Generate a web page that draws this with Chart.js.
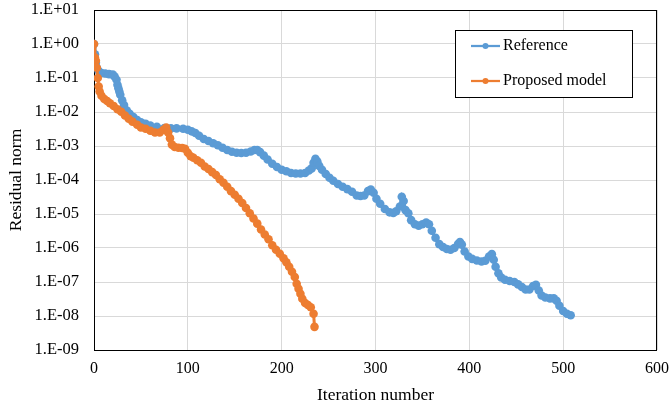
<!DOCTYPE html>
<html>
<head>
<meta charset="utf-8">
<script src="https://cdn.jsdelivr.net/npm/chart.js@4/dist/chart.umd.min.js"></script>
<style>
  html, body { margin: 0; padding: 0; background: #fff; }
  #wrap { width: 670px; height: 410px; }
</style>
</head>
<body>
<div id="wrap"><canvas id="residualChart"></canvas></div>
<script>
// iteration numbers and residual norms
const refIter = [0, 1, 2, 3, 5, 8, 12, 16, 20, 22, 24, 25, 26, 27, 28, 30, 32, 35, 38, 42, 46, 50, 55, 60, 67, 75, 82, 88, 95, 100,
  104, 108, 112, 117, 122, 127, 132, 137, 142, 147, 152, 157, 162, 167, 171, 174, 177, 181, 185, 190, 195, 200, 205, 210, 215, 220,
  225, 229, 232, 234, 236, 238, 240, 243, 247, 251, 255, 260, 265, 270, 275, 280, 284, 288, 292, 295, 298, 301, 305, 310, 315, 319,
  322, 326, 328, 330, 332, 335, 338, 342, 346, 350, 354, 357, 360, 364, 368, 372, 376, 380, 384, 388, 390, 392, 395, 399, 403, 408,
  413, 417, 421, 424, 426, 428, 431, 434, 438, 443, 448, 452, 456, 460, 464, 468, 471, 474, 477, 481, 486, 490, 493, 496, 500, 504, 508];
const refResidual = [1, 0.5, 0.28, 0.2, 0.16, 0.14, 0.135, 0.13, 0.126, 0.11, 0.089, 0.063, 0.05, 0.04, 0.032, 0.022, 0.016, 0.011,
  0.0089, 0.0071, 0.0058, 0.005, 0.0045, 0.004, 0.0037, 0.0034, 0.0033, 0.0033, 0.0032, 0.003,
  0.0027, 0.0024, 0.002, 0.0016, 0.0014, 0.0012, 0.00105, 8.9e-4, 7.6e-4, 6.8e-4, 6.3e-4, 6.2e-4, 6.3e-4, 6.9e-4, 7.6e-4, 7.6e-4,
  6.6e-4, 5.2e-4, 4.0e-4, 3.0e-4, 2.4e-4, 2.0e-4, 1.8e-4, 1.6e-4, 1.55e-4, 1.55e-4,
  1.6e-4, 1.9e-4, 2.2e-4, 3.2e-4, 4.2e-4, 3.5e-4, 2.6e-4, 2.0e-4, 1.5e-4, 1.17e-4, 9.5e-5, 7.6e-5, 6.3e-5, 5.4e-5, 4.5e-5, 3.5e-5,
  3.4e-5, 3.5e-5, 4.7e-5, 5.2e-5, 4.2e-5, 2.8e-5, 2.0e-5, 1.4e-5, 1.12e-5, 1.07e-5,
  1.2e-5, 1.66e-5, 3.2e-5, 2.4e-5, 1.3e-5, 1.05e-5, 6.6e-6, 5.0e-6, 4.5e-6, 5.0e-6, 5.6e-6, 5.0e-6, 3.2e-6, 2.0e-6, 1.3e-6, 1.07e-6,
  9.3e-7, 8.9e-7, 1.0e-6, 1.3e-6, 1.5e-6, 1.26e-6, 7.9e-7, 5.6e-7, 4.8e-7, 4.3e-7,
  4.0e-7, 4.2e-7, 5.6e-7, 6.6e-7, 4.5e-7, 2.8e-7, 1.8e-7, 1.35e-7, 1.17e-7, 1.07e-7, 1.0e-7, 8.5e-8, 7.1e-8, 6.0e-8, 6.0e-8, 7.6e-8,
  8.3e-8, 5.6e-8, 4.0e-8, 3.5e-8, 3.3e-8, 3.3e-8, 2.8e-8, 2.0e-8, 1.4e-8, 1.17e-8, 1.05e-8];

const propIter = [0, 1, 2, 3, 4, 5, 6, 8, 11, 14, 17, 21, 25, 29, 33, 37, 41, 46, 50, 55, 60, 65, 70, 74, 77, 79, 81, 83, 86, 90,
  94, 97, 100, 103, 106, 110, 114, 118, 122, 126, 130, 134, 138, 142, 146, 150, 154, 158, 162, 166, 170, 174, 178, 182, 186, 190,
  194, 198, 202, 205, 208, 211, 214, 216, 218, 220, 222, 225, 228, 231, 234, 235];
const propResidual = [1, 0.4, 0.32, 0.2, 0.1, 0.056, 0.04, 0.03, 0.024, 0.021, 0.018, 0.015, 0.012, 0.0102, 0.0079, 0.0063, 0.0052,
  0.0042, 0.0035, 0.0032, 0.0028, 0.0025, 0.0025, 0.003, 0.0035, 0.0025, 0.0017, 0.0011, 9.3e-4, 8.9e-4,
  8.7e-4, 8.3e-4, 6.3e-4, 5.0e-4, 4.5e-4, 3.8e-4, 3.2e-4, 2.5e-4, 2.1e-4, 1.7e-4, 1.4e-4, 1.05e-4, 8.3e-5, 6.3e-5, 4.7e-5, 3.7e-5,
  2.8e-5, 2.1e-5, 1.5e-5, 1.05e-5, 7.4e-6, 5.2e-6, 3.5e-6, 2.5e-6, 1.8e-6, 1.2e-6,
  8.9e-7, 6.8e-7, 5.0e-7, 3.8e-7, 2.8e-7, 2.0e-7, 1.4e-7, 8.9e-8, 6.3e-8, 4.5e-8, 3.2e-8, 2.4e-8, 2.1e-8, 1.8e-8, 1.17e-8, 4.8e-9];

const xTicks = [0, 100, 200, 300, 400, 500, 600];
const yTicks = [1e1, 1e0, 1e-1, 1e-2, 1e-3, 1e-4, 1e-5, 1e-6, 1e-7, 1e-8, 1e-9];

const BLUE = '#5B9BD5';
const ORANGE = '#ED7D31';
const FONT = '"Liberation Serif", "Times New Roman", serif';

function toPoints(xs, ys) {
  return xs.map((x, i) => ({ x: x, y: ys[i] }));
}

// Excel style label: 1.E-05
function sciLabel(v) {
  const e = Math.round(Math.log10(v));
  const a = Math.abs(e);
  return '1.E' + (e < 0 ? '-' : '+') + (a < 10 ? '0' + a : a);
}

// black frame round the plot area (drawn under the markers)
const frame = {
  id: 'frame',
  beforeDatasetsDraw(chart) {
    const a = chart.chartArea, ctx = chart.ctx;
    ctx.save();
    ctx.strokeStyle = '#000';
    ctx.lineWidth = 1;
    ctx.strokeRect(Math.round(a.left) + 0.5, Math.round(a.top) + 0.5,
      Math.round(a.right - a.left) - 1, Math.round(a.bottom - a.top));
    ctx.restore();
  }
};

// legend box inside the plot, like the original
const boxLegend = {
  id: 'boxLegend',
  afterDraw(chart) {
    const ctx = chart.ctx;
    const x = 455, y = 30, w = 177, h = 67;
    ctx.save();
    ctx.fillStyle = '#fff';
    ctx.fillRect(x, y, w, h);
    ctx.strokeStyle = '#000';
    ctx.lineWidth = 1;
    ctx.strokeRect(x + 0.5, y + 0.5, w, h);
    ctx.font = '16px ' + FONT;
    ctx.textBaseline = 'middle';
    chart.data.datasets.forEach((ds, i) => {
      const cy = y + 16 + i * 35;
      ctx.strokeStyle = ds.borderColor;
      ctx.lineWidth = 2.25;
      ctx.beginPath();
      ctx.moveTo(471, cy);
      ctx.lineTo(500, cy);
      ctx.stroke();
      ctx.fillStyle = ds.borderColor;
      ctx.beginPath();
      ctx.arc(485.5, cy, 3, 0, Math.PI * 2);
      ctx.fill();
      ctx.fillStyle = '#000';
      ctx.fillText(ds.label, 503, cy);
    });
    ctx.restore();
  }
};

const ctx = document.getElementById('residualChart').getContext('2d');
new Chart(ctx, {
  type: 'scatter',
  data: {
    datasets: [{
      label: 'Reference',
      data: toPoints(refIter, refResidual),
      order: 1,
      showLine: true,
      borderColor: BLUE,
      backgroundColor: BLUE,
      borderWidth: 3,
      pointRadius: 4.3,
      pointBorderWidth: 0,
      pointHoverRadius: 4.3
    }, {
      label: 'Proposed model',
      data: toPoints(propIter, propResidual),
      order: 0,
      showLine: true,
      borderColor: ORANGE,
      backgroundColor: ORANGE,
      borderWidth: 3,
      pointRadius: 4.3,
      pointBorderWidth: 0,
      pointHoverRadius: 4.3
    }]
  },
  options: {
    responsive: true,
    maintainAspectRatio: false,
    animation: false,
    layout: { padding: { left: 0, right: 13, top: 10, bottom: 0 } },
    plugins: {
      legend: { display: false },
      tooltip: { enabled: false }
    },
    scales: {
      x: {
        type: 'linear',
        min: 0,
        max: 600,
        afterBuildTicks(scale) { scale.ticks = xTicks.map(v => ({ value: v })); },
        afterFit(scale) { scale.height = 60; scale.paddingLeft = 0; scale.paddingRight = 0; },
        grid: { color: '#d9d9d9', lineWidth: 1, drawTicks: false },
        border: { display: false },
        ticks: { color: '#000', padding: 9, font: { family: FONT, size: 16 }, maxRotation: 0 },
        title: { display: true, text: 'Iteration number', color: '#000', font: { family: FONT, size: 17.5 }, padding: { top: 0, bottom: 4 } }
      },
      y: {
        type: 'logarithmic',
        min: 1e-9,
        max: 1e1,
        afterBuildTicks(scale) { scale.ticks = yTicks.map(v => ({ value: v })); },
        afterFit(scale) { scale.width = 94; scale.paddingTop = 0; scale.paddingBottom = 0; },
        grid: { color: '#d9d9d9', lineWidth: 1, drawTicks: false },
        border: { display: false },
        ticks: { color: '#000', padding: 15, font: { family: FONT, size: 16.5 }, callback: v => sciLabel(v) },
        title: { display: true, text: 'Residual norm', color: '#000', font: { family: FONT, size: 17.5 }, padding: { top: 6, bottom: 0 } }
      }
    }
  },
  plugins: [frame, boxLegend]
});
</script>
</body>
</html>
